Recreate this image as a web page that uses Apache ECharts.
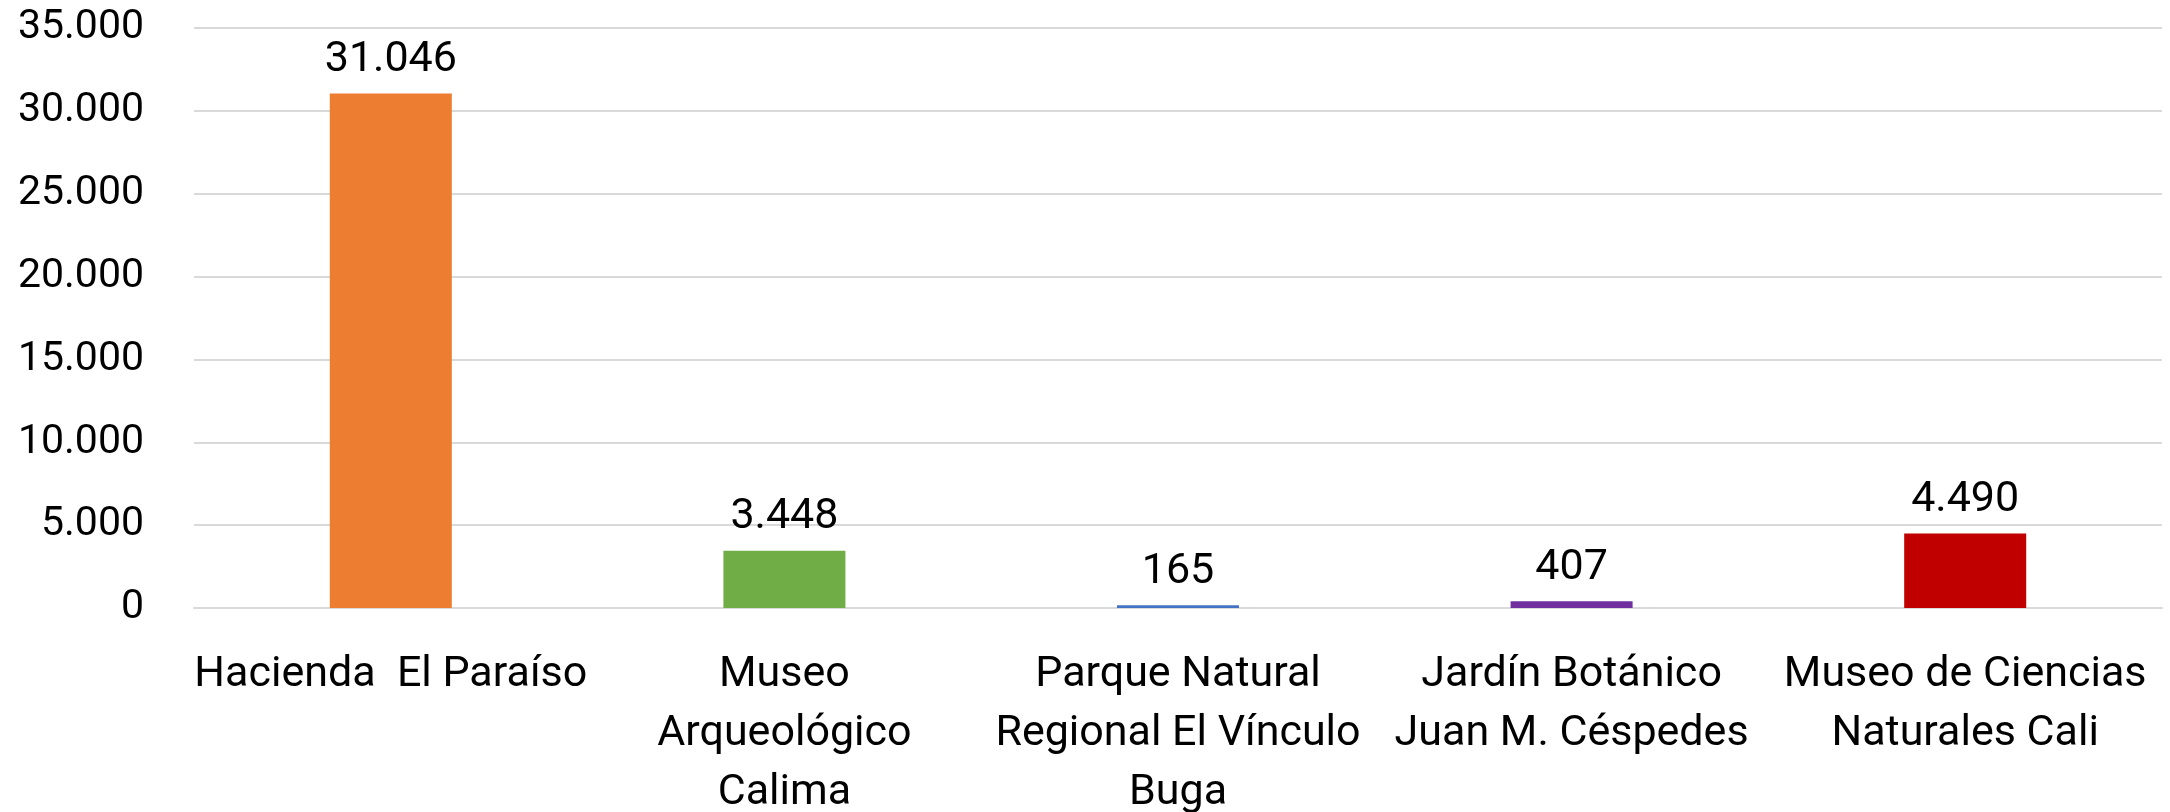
<!DOCTYPE html>
<html>
<head>
<meta charset="utf-8">
<script src="https://cdn.jsdelivr.net/npm/echarts@6/dist/echarts.min.js"></script>
<style>
  html, body { margin: 0; padding: 0; background: #fff; }
  #main { width: 2170px; height: 812px; }
</style>
</head>
<body>
<div id="main"></div>
<script>
const categories = [
  "Hacienda  El Paraíso",
  "Museo\nArqueológico\nCalima",
  "Parque Natural\nRegional El Vínculo\nBuga",
  "Jardín Botánico\nJuan M. Céspedes",
  "Museo de Ciencias\nNaturales Cali",
];
const visitors = [31046, 3448, 165, 407, 4490];
const barColors = ["#ED7D31", "#70AD47", "#4472C4", "#7030A0", "#C00000"];

const fontFamily = "Roboto, 'Liberation Sans', sans-serif";

function fmt(v) {
  return String(v).replace(/\B(?=(\d{3})+(?!\d))/g, ".");
}

let chartDom = document.getElementById("main");
let myChart = echarts.init(chartDom);
let option = {
  animation: false,
  grid: {
    left: 194,
    right: 8,
    top: 28,
    bottom: 204,
    outerBoundsMode: "none",
  },
  xAxis: {
    type: "category",
    data: categories,
    axisLine: { show: true, lineStyle: { color: "#d9d9d9", width: 2 } },
    axisTick: { show: false },
    axisLabel: {
      interval: 0,
      margin: 38,
      color: "#000",
      fontSize: 43,
      lineHeight: 59,
      fontFamily: fontFamily,
      verticalAlign: "top",
    },
  },
  yAxis: {
    type: "value",
    min: 0,
    max: 35000,
    interval: 5000,
    axisLine: { show: false },
    axisTick: { show: false },
    splitLine: { lineStyle: { color: "#d9d9d9", width: 2 } },
    axisLabel: {
      margin: 50,
      color: "#000",
      fontSize: 41,
      fontFamily: fontFamily,
      formatter: (v) => fmt(v),
    },
  },
  series: [
    {
      type: "bar",
      barWidth: "31%",
      data: visitors.map((v, i) => ({ value: v, itemStyle: { color: barColors[i] } })),
      label: {
        show: true,
        position: "top",
        distance: 12,
        color: "#000",
        fontSize: 43,
        fontFamily: fontFamily,
        formatter: (p) => fmt(p.value),
      },
    },
  ],
};
option && myChart.setOption(option);
</script>
</body>
</html>
